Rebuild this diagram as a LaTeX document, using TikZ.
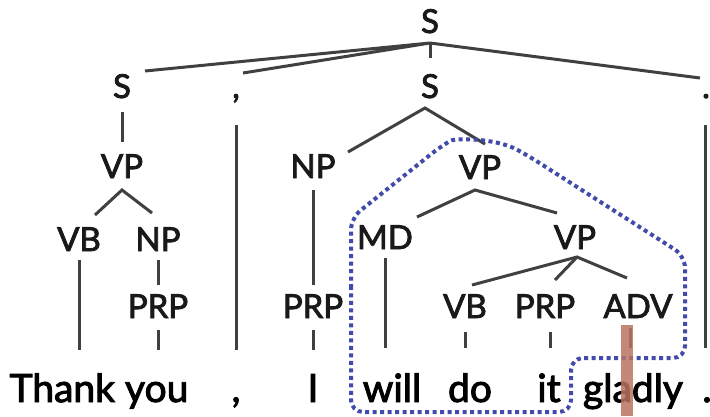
\documentclass[tikz,border=0pt]{standalone}
\usepackage{fontspec}
\setmainfont{Lato}[FakeBold=2.5]
\begin{document}
\begin{tikzpicture}[x=1pt,y=-1pt,
  lab/.style={anchor=base,inner sep=0pt,font=\fontsize{33}{36}\selectfont,text=black!90},
  word/.style={anchor=base,inner sep=0pt,font=\fontsize{39}{42}\selectfont,text=black},
  edge/.style={draw=black!75,line width=3pt},
  hl/.style={draw={rgb,255:red,65;green,75;blue,170},line width=4pt,dash pattern=on 4pt off 3.5pt},
  bar/.style={fill={rgb,255:red,185;green,115;blue,95},fill opacity=0.85,draw=none}]
\useasboundingbox (0,0) rectangle (710,416);
% labels
\node[lab] (s0) at (430,33) {S};
\node[lab] (s1) at (122,98) {S};
\node[lab] (c1) at (236,98) {,};
\node[lab] (s2) at (430,98) {S};
\node[lab] (d1) at (706,98) {.};
\node[lab] (vp1) at (122,178) {VP};
\node[lab] (np2) at (313,178) {NP};
\node[lab] (vp2) at (480,179) {VP};
\node[lab] (vb1) at (79,251) {VB};
\node[lab] (np1) at (158,251) {NP};
\node[lab] (md) at (385,249) {MD};
\node[lab] (vp3) at (575,249) {VP};
\node[lab] (prp1) at (158,318) {PRP};
\node[lab] (prp2) at (313,318) {PRP};
\node[lab] (vb2) at (465,318) {VB};
\node[lab] (prp3) at (545,318) {PRP};
\node[lab] (adv) at (638,318) {ADV};
% words
\node[word] (wthank) at (99,402) {Thank you};
\node[word] (wcomma) at (236,402) {,};
\node[word] (wi) at (313,402) {I};
\node[word] (wwill) at (392,402) {will};
\node[word] (wdo) at (470,402) {do};
\node[word] (wit) at (549,402) {it};
\node[word] (wgladly) at (633,402) {gladly};
\node[word] (wdot) at (707,402) {.};
% connector end points
\coordinate (s0b) at (430,43);
\coordinate (s1t) at (145,71);
\coordinate (c1t) at (243,73);
\coordinate (s2t) at (430,58);
\coordinate (d1t) at (700,78);
\coordinate (s1b) at (122,112);
\coordinate (vp1t) at (122,142);
\coordinate (vp1b) at (122,190);
\coordinate (vb1t) at (95,215);
\coordinate (np1t) at (152,213);
\coordinate (vb1b) at (79,260);
\coordinate (wthankt1) at (79,350);
\coordinate (np1b) at (158,260);
\coordinate (prp1t) at (158,285);
\coordinate (prp1b) at (158,330);
\coordinate (wthankt2) at (158,350);
\coordinate (c1b) at (236,125);
\coordinate (wcommat) at (236,350);
\coordinate (s2b) at (425,108);
\coordinate (np2t) at (348,152);
\coordinate (vp2t) at (485,144);
\coordinate (np2b) at (313,190);
\coordinate (prp2t) at (313,285);
\coordinate (prp2b) at (313,330);
\coordinate (wit1) at (313,350);
\coordinate (vp2b) at (475,190);
\coordinate (mdt) at (417,217);
\coordinate (vp3t) at (557,213);
\coordinate (mdb) at (385,258);
\coordinate (wwillt) at (385,348);
\coordinate (vp3b) at (577,257);
\coordinate (vb2t) at (472,285);
\coordinate (prp3t) at (555,280);
\coordinate (advt) at (627,278);
\coordinate (vb2b) at (465,332);
\coordinate (wdot1) at (465,348);
\coordinate (prp3b) at (550,332);
\coordinate (witt) at (550,348);
\coordinate (advb) at (630,328);
\coordinate (wgladlyt) at (630,348);
\coordinate (d1b) at (705,125);
\coordinate (wdott) at (705,348);
% connectors
\draw[edge] (s1t) -- (s0b) -- (c1t);
\draw[edge] (s0b) -- (s2t);
\draw[edge] (s0b) -- (d1t);
\draw[edge] (s1b) -- (vp1t);
\draw[edge] (vb1t) -- (vp1b) -- (np1t);
\draw[edge] (vb1b) -- (wthankt1);
\draw[edge] (np1b) -- (prp1t);
\draw[edge] (prp1b) -- (wthankt2);
\draw[edge] (c1b) -- (wcommat);
\draw[edge] (np2t) -- (s2b) -- (vp2t);
\draw[edge] (np2b) -- (prp2t);
\draw[edge] (prp2b) -- (wit1);
\draw[edge] (mdt) -- (vp2b) -- (vp3t);
\draw[edge] (mdb) -- (wwillt);
\draw[edge] (vb2t) -- (vp3b) -- (advt);
\draw[edge] (vp3b) -- (prp3t);
\draw[edge] (vb2b) -- (wdot1);
\draw[edge] (prp3b) -- (witt);
\draw[edge] (advb) -- (wgladlyt);
\draw[edge] (d1b) -- (wdott);
% highlight
\draw[hl,rounded corners=12pt] (351,300) -- (351,218) -- (440,147)
  .. controls (455,138) and (495,138) .. (527,155)
  -- (685,256) -- (685,358) -- (571,358) -- (571,412) -- (351,412) -- cycle;
\fill[bar] (621,325) rectangle (633,416);
\end{tikzpicture}
\end{document}
